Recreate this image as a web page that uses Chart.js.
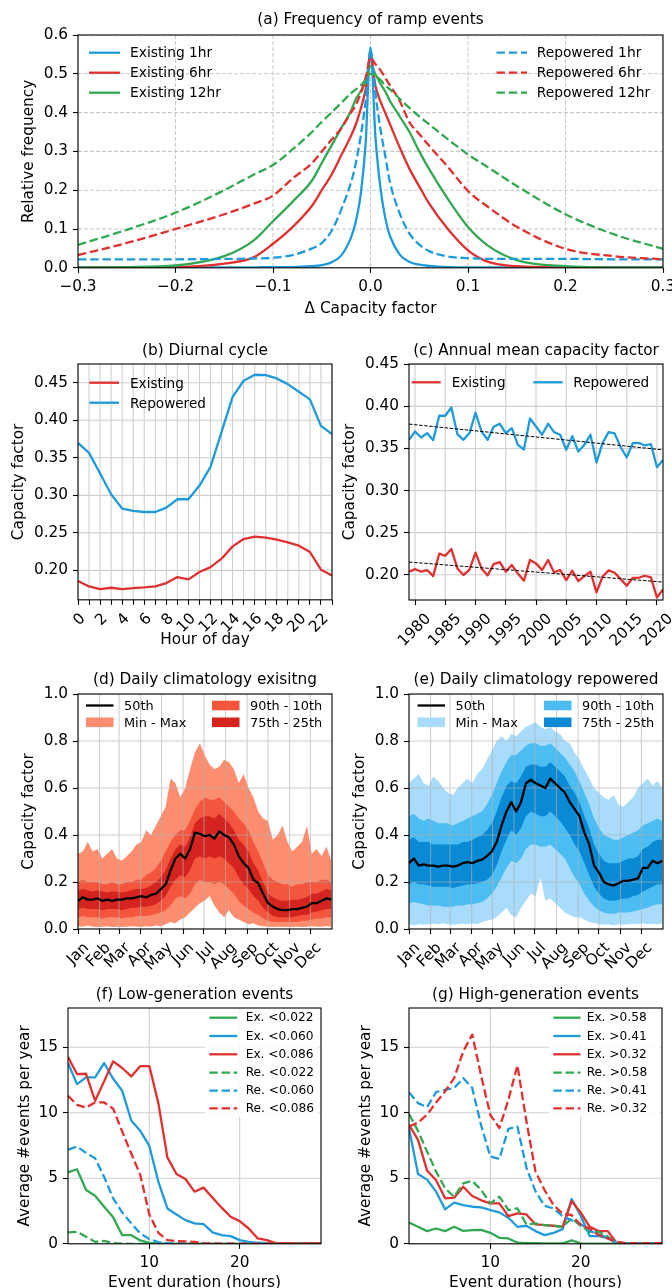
<!DOCTYPE html>
<html>
<head>
<meta charset="utf-8">
<script src="https://cdn.jsdelivr.net/npm/chart.js@4.4.1/dist/chart.umd.min.js"></script>
<style>
  html, body { margin: 0; padding: 0; background: #fff; width: 672px; height: 1288px; overflow: hidden; position: relative; }
  canvas { position: absolute; }
  .lg { position: absolute; font-family: "DejaVu Sans", sans-serif; color: #000; white-space: nowrap; z-index: 3; }
  .lgbox { position: absolute; background: rgba(255,255,255,0.85); z-index: 1; border-radius: 3px; }
</style>
</head>
<body>
<script>
// ===================== data =====================

// (a) frequency of ramp events
const rampDelta = [-0.3,-0.25,-0.2,-0.15,-0.12,-0.1,-0.08,-0.06,-0.05,-0.04,-0.03,-0.02,-0.015,-0.01,-0.005,0,0.005,0.01,0.015,0.02,0.03,0.04,0.05,0.06,0.08,0.1,0.12,0.15,0.2,0.25,0.3];
const rampEx1h  = [0.001,0.001,0.001,0.001,0.001,0.002,0.002,0.004,0.007,0.014,0.032,0.078,0.12,0.19,0.32,0.568,0.34,0.21,0.13,0.082,0.034,0.015,0.008,0.005,0.002,0.001,0.001,0.001,0.001,0.001,0.001];
const rampEx6h  = [0.0,0.001,0.002,0.011,0.027,0.062,0.105,0.16,0.2,0.24,0.29,0.34,0.37,0.41,0.46,0.55,0.47,0.43,0.40,0.37,0.31,0.255,0.21,0.166,0.098,0.045,0.016,0.004,0.001,0.0,0.0];
const rampEx12h = [0.001,0.002,0.006,0.03,0.07,0.12,0.17,0.225,0.27,0.315,0.36,0.405,0.435,0.455,0.48,0.52,0.5,0.475,0.455,0.43,0.39,0.35,0.30,0.255,0.175,0.105,0.058,0.02,0.004,0.001,0.001];
const rampRe1h  = [0.022,0.022,0.022,0.023,0.024,0.026,0.033,0.05,0.064,0.095,0.15,0.22,0.27,0.34,0.43,0.56,0.45,0.36,0.29,0.22,0.14,0.088,0.06,0.043,0.029,0.025,0.023,0.023,0.023,0.022,0.022];
const rampRe6h  = [0.033,0.064,0.10,0.138,0.165,0.186,0.23,0.27,0.30,0.33,0.36,0.40,0.42,0.45,0.49,0.54,0.525,0.51,0.49,0.47,0.43,0.375,0.345,0.315,0.258,0.198,0.158,0.106,0.049,0.03,0.022];
const rampRe12h = [0.059,0.098,0.142,0.2,0.24,0.265,0.305,0.35,0.376,0.40,0.425,0.45,0.46,0.47,0.485,0.50,0.495,0.485,0.47,0.46,0.435,0.412,0.39,0.37,0.33,0.292,0.26,0.211,0.138,0.086,0.049];
const rampTicksX = [-0.3,-0.2,-0.1,0,0.1,0.2,0.3];
const rampTicksY = [0,0.1,0.2,0.3,0.4,0.5,0.6];

// (b) diurnal cycle
const hours = [0,1,2,3,4,5,6,7,8,9,10,11,12,13,14,15,16,17,18,19,20,21,22,23];
const diurnalEx = [0.1858,0.1786,0.1751,0.1769,0.1751,0.1764,0.1773,0.1786,0.1831,0.1911,0.1880,0.1978,0.2044,0.2156,0.2320,0.2418,0.2449,0.2436,0.2409,0.2374,0.2329,0.2245,0.2009,0.1933];
const diurnalRe = [0.3699,0.3566,0.3290,0.3014,0.2823,0.2792,0.2778,0.2778,0.2836,0.2948,0.2948,0.3130,0.3379,0.3846,0.4313,0.4527,0.4607,0.4602,0.4558,0.4482,0.4380,0.4278,0.3926,0.3815];
const diurnalTicksY = [0.20,0.25,0.30,0.35,0.40,0.45];

// (c) annual mean capacity factor
const years = [1979,1980,1981,1982,1983,1984,1985,1986,1987,1988,1989,1990,1991,1992,1993,1994,1995,1996,1997,1998,1999,2000,2001,2002,2003,2004,2005,2006,2007,2008,2009,2010,2011,2012,2013,2014,2015,2016,2017,2018,2019,2020,2021];
const annualEx = [0.2036,0.2067,0.2036,0.2056,0.1984,0.2250,0.2226,0.2306,0.2075,0.1996,0.2060,0.2262,0.2075,0.1992,0.2127,0.2151,0.2036,0.2115,0.2016,0.1929,0.2175,0.2135,0.2056,0.2175,0.2028,0.2056,0.1937,0.2048,0.1925,0.1984,0.2036,0.1790,0.1976,0.2052,0.2024,0.1948,0.1869,0.1964,0.1964,0.1988,0.1968,0.1730,0.1825];
const annualRe = [0.3603,0.3702,0.3631,0.3683,0.3599,0.3889,0.3889,0.3988,0.3671,0.3603,0.3683,0.3925,0.3702,0.3603,0.3758,0.3794,0.3683,0.3742,0.3544,0.3488,0.3857,0.3762,0.3663,0.3794,0.3694,0.3663,0.3484,0.3647,0.3464,0.3544,0.3663,0.3333,0.3563,0.3694,0.3679,0.3516,0.3393,0.3563,0.3567,0.3536,0.3551,0.3278,0.3365];
const trendYears = [1979, 2021];
const trendEx = [0.2151, 0.1913];
const trendRe = [0.3790, 0.3484];
const annualTicksX = [1980,1985,1990,1995,2000,2005,2010,2015,2020];
const annualTicksY = [0.20,0.25,0.30,0.35,0.40,0.45];

// (d), (e) daily climatology, weekly samples (day of year)
const doy = [0,7,14,21,28,35,42,49,56,63,70,77,84,91,98,105,112,119,126,133,140,147,154,161,168,175,182,189,196,203,210,217,224,231,238,245,252,259,266,273,280,287,294,301,308,315,322,329,336,343,350,357,364];
const monthStart = [0,31,59,90,120,151,181,212,243,273,304,334];
const monthNames = ['Jan','Feb','Mar','Apr','May','Jun','Jul','Aug','Sep','Oct','Nov','Dec'];
const climTicksY = [0,0.2,0.4,0.6,0.8,1.0];

const exMax = [0.32,0.33,0.37,0.33,0.34,0.30,0.32,0.34,0.30,0.29,0.31,0.33,0.36,0.37,0.42,0.40,0.44,0.48,0.52,0.64,0.62,0.56,0.60,0.68,0.75,0.79,0.74,0.70,0.68,0.69,0.72,0.71,0.68,0.62,0.66,0.60,0.56,0.50,0.47,0.46,0.38,0.40,0.44,0.37,0.33,0.35,0.37,0.44,0.32,0.34,0.31,0.35,0.29];
const exP90 = [0.20,0.21,0.20,0.20,0.20,0.19,0.19,0.20,0.19,0.19,0.20,0.20,0.21,0.21,0.23,0.24,0.26,0.29,0.33,0.37,0.40,0.42,0.42,0.46,0.51,0.54,0.56,0.55,0.55,0.56,0.54,0.52,0.50,0.47,0.45,0.42,0.37,0.33,0.28,0.23,0.21,0.20,0.19,0.19,0.18,0.19,0.19,0.20,0.20,0.20,0.21,0.21,0.20];
const exP75 = [0.165,0.17,0.165,0.16,0.165,0.16,0.155,0.16,0.16,0.155,0.16,0.165,0.17,0.17,0.175,0.185,0.20,0.22,0.25,0.30,0.34,0.36,0.35,0.39,0.45,0.47,0.48,0.48,0.47,0.49,0.47,0.45,0.42,0.38,0.36,0.33,0.28,0.25,0.20,0.15,0.135,0.125,0.12,0.12,0.125,0.125,0.13,0.135,0.15,0.15,0.16,0.17,0.165];
const exP50 = [0.12,0.135,0.125,0.125,0.13,0.12,0.125,0.12,0.125,0.125,0.13,0.13,0.135,0.14,0.135,0.145,0.15,0.17,0.19,0.25,0.30,0.32,0.30,0.34,0.41,0.405,0.395,0.40,0.385,0.415,0.40,0.39,0.36,0.31,0.28,0.26,0.21,0.195,0.15,0.11,0.095,0.085,0.08,0.08,0.085,0.085,0.09,0.095,0.11,0.11,0.12,0.13,0.125];
const exP25 = [0.085,0.09,0.085,0.085,0.085,0.08,0.085,0.085,0.085,0.08,0.085,0.09,0.09,0.095,0.095,0.10,0.105,0.12,0.14,0.18,0.21,0.23,0.22,0.25,0.30,0.31,0.30,0.31,0.30,0.31,0.30,0.28,0.26,0.22,0.19,0.17,0.14,0.12,0.09,0.07,0.055,0.05,0.05,0.05,0.05,0.055,0.06,0.06,0.07,0.075,0.08,0.085,0.085];
const exP10 = [0.05,0.055,0.05,0.05,0.05,0.045,0.05,0.05,0.05,0.045,0.05,0.05,0.055,0.055,0.055,0.06,0.065,0.07,0.08,0.10,0.13,0.14,0.13,0.15,0.19,0.21,0.20,0.20,0.19,0.20,0.19,0.17,0.15,0.12,0.10,0.085,0.07,0.06,0.045,0.035,0.03,0.03,0.03,0.03,0.03,0.03,0.035,0.035,0.04,0.045,0.045,0.05,0.05];
const exMin = [0.012,0.01,0.015,0.01,0.008,0.01,0.012,0.008,0.01,0.008,0.01,0.012,0.01,0.01,0.012,0.01,0.015,0.012,0.02,0.03,0.025,0.04,0.05,0.07,0.09,0.11,0.12,0.14,0.10,0.07,0.05,0.08,0.05,0.04,0.03,0.02,0.025,0.015,0.012,0.01,0.008,0.01,0.008,0.01,0.008,0.01,0.008,0.01,0.012,0.01,0.01,0.012,0.01];

const reMax = [0.62,0.64,0.66,0.62,0.61,0.65,0.63,0.60,0.58,0.57,0.60,0.62,0.64,0.62,0.66,0.68,0.72,0.76,0.80,0.82,0.80,0.83,0.82,0.84,0.86,0.87,0.88,0.86,0.85,0.86,0.84,0.83,0.80,0.79,0.75,0.72,0.68,0.64,0.60,0.58,0.56,0.55,0.57,0.53,0.52,0.54,0.56,0.60,0.62,0.64,0.61,0.63,0.60];
const reP90 = [0.48,0.49,0.47,0.46,0.47,0.46,0.45,0.45,0.45,0.44,0.45,0.46,0.47,0.48,0.49,0.50,0.53,0.57,0.62,0.67,0.71,0.74,0.74,0.76,0.78,0.79,0.79,0.78,0.78,0.79,0.77,0.75,0.73,0.70,0.67,0.63,0.58,0.53,0.47,0.43,0.40,0.39,0.38,0.38,0.39,0.40,0.41,0.42,0.44,0.45,0.46,0.47,0.46];
const reP75 = [0.38,0.39,0.37,0.37,0.37,0.36,0.36,0.36,0.36,0.36,0.36,0.37,0.37,0.38,0.39,0.40,0.42,0.45,0.50,0.56,0.61,0.63,0.62,0.65,0.69,0.70,0.70,0.69,0.69,0.71,0.69,0.67,0.65,0.61,0.58,0.54,0.48,0.43,0.36,0.32,0.29,0.28,0.28,0.28,0.29,0.30,0.30,0.31,0.34,0.35,0.37,0.38,0.38];
const reP50 = [0.28,0.30,0.27,0.275,0.27,0.27,0.265,0.27,0.27,0.265,0.27,0.28,0.285,0.28,0.29,0.295,0.31,0.33,0.37,0.44,0.50,0.54,0.50,0.54,0.62,0.635,0.62,0.61,0.60,0.64,0.62,0.60,0.58,0.54,0.51,0.48,0.41,0.36,0.27,0.24,0.20,0.19,0.185,0.195,0.205,0.205,0.21,0.215,0.26,0.26,0.29,0.28,0.29];
const reP25 = [0.19,0.20,0.19,0.19,0.185,0.18,0.18,0.18,0.18,0.175,0.18,0.185,0.19,0.19,0.195,0.20,0.21,0.23,0.27,0.33,0.38,0.42,0.40,0.43,0.48,0.50,0.49,0.48,0.48,0.50,0.48,0.46,0.43,0.40,0.36,0.33,0.28,0.23,0.18,0.15,0.13,0.12,0.12,0.125,0.13,0.13,0.14,0.145,0.16,0.17,0.18,0.19,0.19];
const reP10 = [0.11,0.115,0.11,0.105,0.10,0.10,0.10,0.095,0.095,0.095,0.10,0.10,0.105,0.105,0.11,0.115,0.13,0.15,0.18,0.22,0.26,0.29,0.28,0.30,0.34,0.36,0.36,0.35,0.35,0.36,0.34,0.32,0.30,0.26,0.22,0.19,0.15,0.12,0.095,0.08,0.07,0.065,0.065,0.07,0.07,0.07,0.075,0.08,0.085,0.09,0.10,0.105,0.105];
const reMin = [0.02,0.015,0.02,0.018,0.02,0.022,0.02,0.025,0.02,0.018,0.02,0.022,0.02,0.025,0.02,0.03,0.035,0.04,0.05,0.07,0.09,0.06,0.05,0.09,0.12,0.15,0.14,0.22,0.12,0.13,0.11,0.09,0.07,0.06,0.05,0.05,0.04,0.03,0.025,0.02,0.018,0.02,0.015,0.02,0.018,0.02,0.022,0.02,0.025,0.02,0.022,0.02,0.025];

// (f), (g) event durations
const durations = [1,2,3,4,5,6,7,8,9,10,11,12,13,14,15,16,17,18,19,20,21,22,23,24,25,26,27,28,29];
const lowEx022 = [5.46,5.69,4.11,3.67,2.83,2.02,0.66,0.66,0.26,0.08,0.02,0.01,0,0,0,0,0,0,0,0,0,0,0,0,0,0,0,0,0];
const lowEx060 = [13.8,12.19,12.7,12.7,13.8,12.6,11.68,9.41,8.62,7.47,4.74,2.7,2.24,1.81,1.56,1.5,0.87,0.66,0.59,0.28,0.15,0.08,0.05,0.03,0.02,0.02,0.02,0.02,0.02];
const lowEx086 = [14.26,12.96,12.98,10.92,12.4,13.93,13.42,12.78,13.57,13.57,10.74,6.6,5.33,4.95,3.98,4.29,3.52,2.76,2.07,1.73,1.17,0.41,0.28,0.05,0.05,0.03,0.03,0.05,0.05];
const lowRe022 = [0.87,0.92,0.54,0.15,0.23,0.05,0.02,0,0,0,0,0,0,0,0,0,0,0,0,0,0,0,0,0,0,0,0,0,0];
const lowRe060 = [7.19,7.42,6.94,6.53,5.1,3.47,2.4,1.56,0.79,0.36,0.13,0.05,0.03,0.02,0.02,0.01,0.01,0,0,0,0,0,0,0,0,0,0,0,0];
const lowRe086 = [11.3,10.61,10.41,10.79,10.79,10.31,8.57,6.89,5.26,2.24,0.84,0.28,0.2,0.18,0.15,0.05,0.03,0.02,0.02,0.02,0.02,0.02,0.01,0.01,0.01,0.01,0.01,0.01,0.01];
const highEx058 = [1.63,1.3,0.97,1.17,0.97,1.3,0.99,1.05,1.07,0.84,0.46,0.41,0.08,0.05,0.05,0.03,0.03,0.03,0.26,0.03,0.02,0.02,0.02,0.01,0.01,0.01,0.01,0.01,0.01];
const highEx041 = [8.83,5.33,4.9,3.98,2.63,3.14,2.96,2.83,2.78,2.58,2.4,1.99,1.3,1.38,0.97,0.66,0.84,1.12,3.42,2.14,0.59,0.61,0.41,0.05,0.05,0.05,0.05,0.05,0.05];
const highEx032 = [9.08,7.93,5.59,4.85,3.47,3.52,4.36,3.65,3.32,3.09,3.09,2.12,2.32,2.24,1.48,1.43,1.38,1.3,3.27,2.4,1.3,0.97,0.97,0.05,0.05,0.05,0.05,0.05,0.05];
const highRe058 = [9.9,8.62,7.04,5.51,4.23,3.6,4.62,4.8,4.1,3.09,3.6,2.58,2.7,1.48,1.56,1.43,1.38,1.3,1.94,1.38,0.92,0.92,0.54,0.05,0.05,0.05,0.05,0.05,0.05];
const highRe041 = [11.58,10.74,10.43,11.58,11.76,11.89,12.65,11.89,9.0,6.66,6.48,8.78,8.95,5.8,4.0,2.9,2.7,2.1,1.8,1.5,1.0,0.7,0.5,0.1,0.05,0.05,0.05,0.05,0.05];
const highRe032 = [8.95,9.26,9.85,10.79,11.63,12.65,14.69,15.97,12.78,9.85,8.83,10.99,13.62,9.34,5.51,4.11,2.96,2.3,2.2,1.43,1.17,0.66,0.41,0.15,0.05,0.05,0.05,0.05,0.05];
const eventTicksX = [10,20];
const eventTicksY = [0,5,10,15];

// ===================== styling =====================
const FONT = 'DejaVu Sans';
const FS = 15.3;
const LH = FS * 1.2;
const BLUE = '#1f9bd9', RED = '#e0302f', GREEN = '#33a852', BLACK = '#000';
const DASH = [8.5, 3.7];
const LW = 2.3;
Chart.defaults.font.family = FONT;
Chart.defaults.color = '#000';

const pts = (xs, ys) => xs.map((x, i) => ({ x: x, y: ys[i] }));
const minus = s => s.replace('-', '\u2212');

// grid lines drawn by hand so they can sit above filled bands
function drawGrid(chart, o) {
  const { ctx, chartArea: a, scales } = chart;
  ctx.save();
  ctx.beginPath();
  ctx.rect(a.left, a.top, a.right - a.left, a.bottom - a.top);
  ctx.clip();
  ctx.strokeStyle = o.color;
  ctx.lineWidth = o.width;
  ctx.setLineDash(o.dash || []);
  ctx.beginPath();
  for (const t of scales.x.ticks) {
    const px = scales.x.getPixelForValue(t.value);
    ctx.moveTo(px, a.top); ctx.lineTo(px, a.bottom);
  }
  for (const t of scales.y.ticks) {
    const py = scales.y.getPixelForValue(t.value);
    ctx.moveTo(a.left, py); ctx.lineTo(a.right, py);
  }
  ctx.stroke();
  ctx.restore();
}
const gridPlugin = {
  id: 'mplGrid',
  beforeDatasetsDraw(chart, args, o) { if (o.atIndex === undefined || o.atIndex === null) drawGrid(chart, o); },
  beforeDatasetDraw(chart, args, o) { if (o.atIndex === args.index) drawGrid(chart, o); }
};
const framePlugin = {
  id: 'frame',
  afterDatasetsDraw(chart) {
    const { ctx, chartArea: a } = chart;
    ctx.save();
    ctx.strokeStyle = '#000';
    ctx.lineWidth = 1.1;
    ctx.setLineDash([]);
    ctx.strokeRect(a.left, a.top, a.right - a.left, a.bottom - a.top);
    ctx.restore();
  }
};

function tickFont() { return { family: FONT, size: FS }; }

function makePanel(p) {
  const cx = Math.round(p.yTitleX - LH / 2);
  const cy = Math.max(0, Math.round(p.titleY - 24));
  const padTop = p.titleY - cy - LH / 2;
  const padBot = p.area.t - cy - LH - padTop;
  const hx = p.xTitle ? (p.xTitleY - p.area.b + LH / 2) : 50;
  const W = p.area.r + 14 - cx;
  const H = Math.round(p.area.b + hx - cy);
  const wy = p.area.l - cx;
  const cv = document.createElement('canvas');
  cv.width = W; cv.height = H;
  cv.style.left = cx + 'px'; cv.style.top = cy + 'px';
  cv.style.width = W + 'px'; cv.style.height = H + 'px';
  document.body.appendChild(cv);

  const rot = p.x.rotate ? 45 : 0;
  new Chart(cv, {
    type: 'line',
    data: { datasets: p.datasets },
    options: {
      responsive: false, animation: false, devicePixelRatio: 1,
      layout: { padding: { left: 0, top: 0, bottom: 0, right: 14 } },
      elements: { point: { radius: 0 }, line: { borderJoinStyle: 'round' } },
      plugins: {
        legend: { display: false },
        tooltip: { enabled: false },
        title: { display: true, text: p.title, color: '#000', fullSize: false,
                 font: { family: FONT, size: FS, weight: 'normal' },
                 padding: { top: padTop, bottom: padBot } },
        mplGrid: p.grid
      },
      scales: {
        x: {
          type: 'linear', min: p.x.min, max: p.x.max,
          afterBuildTicks: s => { s.ticks = p.x.ticks.map(v => ({ value: v })); },
          afterFit: s => { s.height = hx; s.paddingLeft = 0; s.paddingRight = 0; },
          ticks: { autoSkip: false, maxRotation: rot, minRotation: rot, padding: 5,
                   labelOffset: p.x.labelOffset || 0, font: tickFont(), color: '#000',
                   callback: p.x.label },
          grid: { drawOnChartArea: false, tickLength: 5, tickWidth: 1.1, tickColor: '#000' },
          border: { display: false },
          title: { display: !!p.xTitle, text: p.xTitle || '', color: '#000',
                   font: { family: FONT, size: FS }, padding: 0 }
        },
        y: {
          type: 'linear', min: p.y.min, max: p.y.max,
          afterBuildTicks: s => { s.ticks = p.y.ticks.map(v => ({ value: v })); },
          afterFit: s => { s.width = wy; s.paddingTop = 0; s.paddingBottom = 0; },
          ticks: { autoSkip: false, padding: 5, font: tickFont(), color: '#000', callback: p.y.label },
          grid: { drawOnChartArea: false, tickLength: 5, tickWidth: 1.1, tickColor: '#000' },
          border: { display: false },
          title: { display: true, text: p.yTitle, color: '#000',
                   font: { family: FONT, size: FS }, padding: 0 }
        }
      }
    },
    plugins: [gridPlugin, framePlugin]
  });
}

function line(label, xs, ys, color, dashed, order, extra) {
  return Object.assign({ label: label, data: pts(xs, ys), borderColor: color, backgroundColor: color,
    borderWidth: LW, borderDash: dashed ? DASH : [], fill: false, pointRadius: 0, tension: 0, order: order }, extra || {});
}
function band(label, xs, ys, color, fillTo, order) {
  return { label: label, data: pts(xs, ys), borderColor: 'rgba(0,0,0,0)', borderWidth: 0,
    backgroundColor: color, fill: fillTo, pointRadius: 0, tension: 0, order: order };
}

// ---- legends (HTML text + SVG swatches) ----
const NS = 'http://www.w3.org/2000/svg';
const svg = document.createElementNS(NS, 'svg');
svg.setAttribute('width', 672); svg.setAttribute('height', 1288);
svg.style.cssText = 'position:absolute;left:0;top:0;z-index:2;pointer-events:none';
document.body.appendChild(svg);

function legendEntry(e, x1, x2, y, tx, size) {
  if (e.patch) {
    const r = document.createElementNS(NS, 'rect');
    r.setAttribute('x', x1); r.setAttribute('y', y - 4.8);
    r.setAttribute('width', x2 - x1); r.setAttribute('height', 9.6);
    r.setAttribute('fill', e.color);
    svg.appendChild(r);
  } else {
    const l = document.createElementNS(NS, 'line');
    l.setAttribute('x1', x1); l.setAttribute('x2', x2);
    l.setAttribute('y1', y); l.setAttribute('y2', y);
    l.setAttribute('stroke', e.color); l.setAttribute('stroke-width', LW);
    if (e.dashed) l.setAttribute('stroke-dasharray', DASH.join(' '));
    svg.appendChild(l);
  }
  const d = document.createElement('div');
  d.className = 'lg';
  d.textContent = e.text;
  d.style.left = tx + 'px';
  d.style.fontSize = size + 'px';
  d.style.lineHeight = (size * 1.2) + 'px';
  d.style.top = (y - size * 0.6) + 'px';
  document.body.appendChild(d);
}
function legendBox(x, y, w, h) {
  const b = document.createElement('div');
  b.className = 'lgbox';
  b.style.left = x + 'px'; b.style.top = y + 'px';
  b.style.width = w + 'px'; b.style.height = h + 'px';
  document.body.appendChild(b);
}

const GRID_SOLID = { color: 'rgba(176,176,176,0.6)', width: 1.1 };

// ===================== (a) =====================
const aSeries = [
  { text: 'Existing 1hr',   ys: rampEx1h,  color: BLUE,  dashed: false },
  { text: 'Existing 6hr',   ys: rampEx6h,  color: RED,   dashed: false },
  { text: 'Existing 12hr',  ys: rampEx12h, color: GREEN, dashed: false },
  { text: 'Repowered 1hr',  ys: rampRe1h,  color: BLUE,  dashed: true },
  { text: 'Repowered 6hr',  ys: rampRe6h,  color: RED,   dashed: true },
  { text: 'Repowered 12hr', ys: rampRe12h, color: GREEN, dashed: true }
];
makePanel({
  title: '(a) Frequency of ramp events', titleY: 20,
  area: { l: 78, r: 663, t: 35, b: 268 },
  yTitle: 'Relative frequency', yTitleX: 29.5,
  xTitle: '\u0394 Capacity factor', xTitleY: 309,
  x: { min: -0.3, max: 0.3, ticks: rampTicksX, label: v => minus(v.toFixed(1)) },
  y: { min: 0, max: 0.6, ticks: rampTicksY, label: v => v.toFixed(1) },
  grid: { color: 'rgba(165,165,165,0.6)', width: 1.1, dash: [4, 2] },
  datasets: aSeries.map((s, i) => line(s.text, rampDelta, s.ys, s.color, s.dashed, aSeries.length - i,
    { cubicInterpolationMode: 'monotone' }))
});
[52.7, 72.7, 92.7].forEach((y, i) => {
  legendEntry(aSeries[i], 89, 120, y, 130, 13.8);
  legendEntry(aSeries[i + 3], 496.5, 527, y, 536.7, 13.8);
});

// ===================== (b) =====================
const bSeries = [
  { text: 'Existing', ys: diurnalEx, color: RED },
  { text: 'Repowered', ys: diurnalRe, color: BLUE }
];
makePanel({
  title: '(b) Diurnal cycle', titleY: 351,
  area: { l: 78, r: 332, t: 364, b: 600 },
  yTitle: 'Capacity factor', yTitleX: 19.5,
  xTitle: 'Hour of day', xTitleY: 640,
  x: { min: 0, max: 23, ticks: hours, rotate: true, labelOffset: 5, label: v => (v % 2 === 0 ? String(v) : '') },
  y: { min: 0.1608, max: 0.475, ticks: diurnalTicksY, label: v => v.toFixed(2) },
  grid: GRID_SOLID,
  datasets: bSeries.map((s, i) => line(s.text, hours, s.ys, s.color, false, 2 - i))
});
legendEntry(bSeries[0], 89.3, 119, 382.7, 130, 13.6);
legendEntry(bSeries[1], 89.3, 119, 402.7, 130, 13.6);

// ===================== (c) =====================
makePanel({
  title: '(c) Annual mean capacity factor', titleY: 351,
  area: { l: 409, r: 663, t: 364, b: 600 },
  yTitle: 'Capacity factor', yTitleX: 350.3,
  x: { min: 1979, max: 2021, ticks: annualTicksX, rotate: true, labelOffset: 13.5, label: v => String(v) },
  y: { min: 0.17, max: 0.4504, ticks: annualTicksY, label: v => v.toFixed(2) },
  grid: GRID_SOLID,
  datasets: [
    line('Existing', years, annualEx, RED, false, 4),
    line('Repowered', years, annualRe, BLUE, false, 3),
    line('Existing trend', trendYears, trendEx, BLACK, false, 2, { borderWidth: 1, borderDash: [3.5, 1.6] }),
    line('Repowered trend', trendYears, trendRe, BLACK, false, 1, { borderWidth: 1, borderDash: [3.5, 1.6] })
  ]
});
legendEntry({ text: 'Existing', color: RED }, 411.7, 440.7, 382.3, 451.7, 13.6);
legendEntry({ text: 'Repowered', color: BLUE }, 533.3, 562.7, 382.3, 573.3, 13.6);

// ===================== (d), (e) =====================
function climPanel(title, area, yTitleX, s, cols) {
  makePanel({
    title: title, titleY: 680,
    area: area,
    yTitle: 'Capacity factor', yTitleX: yTitleX,
    x: { min: 0, max: 365, ticks: monthStart, rotate: true, labelOffset: 8.5,
         label: v => monthNames[monthStart.indexOf(v)] },
    y: { min: 0, max: 1, ticks: climTicksY, label: v => v.toFixed(1) },
    grid: Object.assign({ atIndex: 6 }, GRID_SOLID),
    datasets: [
      band('Min - Max', doy, s.max, cols[0], 1, 4),
      band('min', doy, s.min, 'rgba(0,0,0,0)', false, 4),
      band('90th - 10th', doy, s.p90, cols[1], 3, 3),
      band('p10', doy, s.p10, 'rgba(0,0,0,0)', false, 3),
      band('75th - 25th', doy, s.p75, cols[2], 5, 2),
      band('p25', doy, s.p25, 'rgba(0,0,0,0)', false, 2),
      line('50th', doy, s.p50, BLACK, false, 1)
    ]
  });
}
const redBands = ['#fc8d6e', '#f4553d', '#d5241f'];
const blueBands = ['#a8dcfa', '#4bbdf3', '#0a8ad4'];
climPanel('(d) Daily climatology exisitng', { l: 78, r: 332, t: 694, b: 929 }, 29,
  { max: exMax, p90: exP90, p75: exP75, p50: exP50, p25: exP25, p10: exP10, min: exMin }, redBands);
climPanel('(e) Daily climatology repowered', { l: 409, r: 663, t: 694, b: 929 }, 360.3,
  { max: reMax, p90: reP90, p75: reP75, p50: reP50, p25: reP25, p10: reP10, min: reMin }, blueBands);

function climLegend(x0, x1, colors) {
  legendEntry({ text: '50th', color: BLACK }, x0, x0 + 27.5, 705.5, x0 + 38, 12.9);
  legendEntry({ text: 'Min - Max', color: colors[0], patch: true }, x0, x0 + 27.5, 722.3, x0 + 38, 12.9);
  legendEntry({ text: '90th - 10th', color: colors[1], patch: true }, x1, x1 + 27.5, 705.5, x1 + 38, 12.9);
  legendEntry({ text: '75th - 25th', color: colors[2], patch: true }, x1, x1 + 27.5, 722.3, x1 + 38, 12.9);
}
climLegend(86, 212, redBands);
climLegend(417.5, 544, blueBands);

// ===================== (f), (g) =====================
function eventPanel(title, area, yTitleX, series) {
  makePanel({
    title: title, titleY: 995,
    area: area,
    yTitle: 'Average #events per year', yTitleX: yTitleX,
    xTitle: 'Event duration (hours)', xTitleY: 1283,
    x: { min: 1, max: 29, ticks: eventTicksX, label: v => String(v) },
    y: { min: 0, max: 18, ticks: eventTicksY, label: v => String(v) },
    grid: GRID_SOLID,
    datasets: series.map((s, i) => line(s.text, durations, s.ys, s.color, s.dashed, series.length - i))
  });
}
const fSeries = [
  { text: 'Ex. <0.022', ys: lowEx022, color: GREEN, dashed: false },
  { text: 'Ex. <0.060', ys: lowEx060, color: BLUE,  dashed: false },
  { text: 'Ex. <0.086', ys: lowEx086, color: RED,   dashed: false },
  { text: 'Re. <0.022', ys: lowRe022, color: GREEN, dashed: true },
  { text: 'Re. <0.060', ys: lowRe060, color: BLUE,  dashed: true },
  { text: 'Re. <0.086', ys: lowRe086, color: RED,   dashed: true }
];
const gSeries = [
  { text: 'Ex. >0.58', ys: highEx058, color: GREEN, dashed: false },
  { text: 'Ex. >0.41', ys: highEx041, color: BLUE,  dashed: false },
  { text: 'Ex. >0.32', ys: highEx032, color: RED,   dashed: false },
  { text: 'Re. >0.58', ys: highRe058, color: GREEN, dashed: true },
  { text: 'Re. >0.41', ys: highRe041, color: BLUE,  dashed: true },
  { text: 'Re. >0.32', ys: highRe032, color: RED,   dashed: true }
];
eventPanel('(f) Low-generation events', { l: 68, r: 321, t: 1008, b: 1244 }, 25.5, fSeries);
eventPanel('(g) High-generation events', { l: 409, r: 662, t: 1008, b: 1244 }, 366, gSeries);

const evRows = [1017.7, 1036, 1054.3, 1072.7, 1090.7, 1108.3];
legendBox(205, 1009, 114, 108);
legendBox(549, 1009, 111, 108);
evRows.forEach((y, i) => {
  legendEntry(fSeries[i], 209.3, 237.3, y, 245.7, 12.2);
  legendEntry(gSeries[i], 553.3, 580.5, y, 586.7, 12.2);
});
</script>
</body>
</html>
